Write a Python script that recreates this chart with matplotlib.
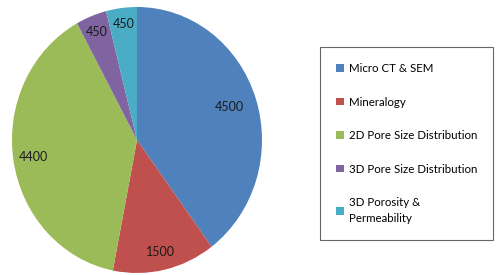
import matplotlib
matplotlib.use("Agg")
import numpy as np
import matplotlib.pyplot as plt

plt.rcParams['font.family'] = ['Lato', 'DejaVu Sans']

categories = ["Micro CT & SEM", "Mineralogy", "2D Pore Size Distribution",
              "3D Pore Size Distribution", "3D Porosity &\nPermeability"]
values = [4500, 1500, 4400, 450, 450]
colors = ["#4F81BD", "#C0504D", "#9BBB59", "#8064A2", "#4BACC6"]
label_dist = [0.78, 0.86, 0.84, 0.87, 0.88]  # Excel "best fit" label placement

total = sum(values)

fig = plt.figure(figsize=(4.99, 2.75), dpi=100)
ax = fig.add_axes([12/499, 2/275, 250/499, 266/275])

wedges, texts, autotexts = ax.pie(
    values, colors=colors, startangle=90, counterclock=False,
    autopct=lambda p: f"{p * total / 100:.0f}", pctdistance=0.8,
    wedgeprops=dict(linewidth=0), textprops=dict(fontsize=9, color="#1a1a1a"))
ax.set_aspect('auto')
ax.set_xlim(-1, 1)
ax.set_ylim(-1, 1)

for w, t, d in zip(wedges, autotexts, label_dist):
    a = np.deg2rad((w.theta1 + w.theta2) / 2)
    t.set_position((d * np.cos(a), d * np.sin(a)))

leg = fig.legend(wedges, categories, loc="upper left",
                 bbox_to_anchor=(320/499, 1 - 47/275),
                 frameon=True, fancybox=False, fontsize=8.3,
                 handlelength=0.65, handleheight=0.65, handletextpad=0.45,
                 labelspacing=1.95, borderpad=1.4, borderaxespad=0)
leg.get_frame().set_edgecolor("#404040")
leg.get_frame().set_linewidth(0.8)
for txt in leg.get_texts():
    txt.set_linespacing(1.55)

fig.savefig("out.png", dpi=100)
